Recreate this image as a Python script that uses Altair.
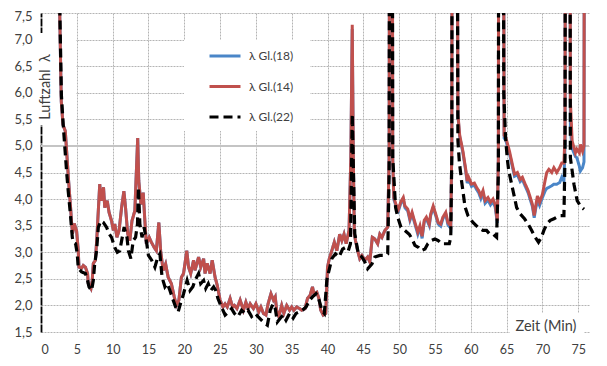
import altair as alt
import pandas as pd

# ---------------- data ----------------
series_names = ["λ Gl.(18)", "λ Gl.(14)", "λ Gl.(22)"]
series_colors = ["#4a86c8", "#c0504d", "#000000"]
series_dash = [[1, 0], [1, 0], [9, 5]]

x_ticks = [0, 5, 10, 15, 20, 25, 30, 35, 40, 45, 50, 55, 60, 65, 70, 75]
y_ticks = [1.5, 2.0, 2.5, 3.0, 3.5, 4.0, 4.5, 5.0, 5.5, 6.0, 6.5, 7.0, 7.5]
ref_line = [5.0]
y_title = ["Luftzahl\u2002λ"]
x_title = ["Zeit (Min)"]

# time axis shared by Gl.(14) and Gl.(18)
t_14 = [
    2.5, 2.6, 2.83, 3.07, 3.39, 3.85, 4.13, 4.27, 4.4, 4.64,
    4.97, 5.2, 5.3, 5.67, 5.9, 6.2, 6.5, 6.6, 6.97, 7.15,
    7.3, 7.6, 7.8, 8.0, 8.2, 8.4, 8.73, 8.9, 9.25, 9.5,
    9.85, 10.1, 10.3, 10.6, 10.9, 11.25, 11.57, 11.8, 12.1, 12.4,
    12.7, 13.1, 13.3, 13.5, 13.65, 13.95, 14.27, 14.5, 14.7, 15.1,
    15.4, 15.8, 16.1, 16.45, 16.7, 17.05, 17.4, 17.75, 18.2, 18.6,
    18.9, 19.25, 19.6, 19.9, 20.35, 20.6, 20.9, 21.3, 21.5, 22.0,
    22.3, 22.7, 22.9, 23.2, 23.6, 23.9, 24.3, 24.6, 25.0, 25.4,
    25.7, 26.0, 26.4, 26.75, 27.0, 27.35, 27.8, 28.26, 28.6, 28.9,
    29.2, 29.65, 30.0, 30.4, 30.7, 31.05, 31.4, 31.7, 32.1, 32.45,
    32.7, 32.9, 33.2, 33.6, 33.9, 34.3, 34.7, 35.0, 35.3, 35.7,
    36.1, 36.4, 36.86, 37.2, 37.56, 37.9, 38.1, 38.5, 38.8, 39.05,
    39.4, 39.75, 40.0, 40.25, 40.6, 40.95, 41.3, 41.7, 42.0, 42.3,
    42.6, 43.0, 43.25, 43.45, 43.6, 43.74, 43.9, 44.2, 44.5, 44.8,
    45.2, 45.6, 45.9, 46.25, 46.6, 47.0, 47.3, 47.6, 48.0, 48.4,
    48.6, 48.75, 48.95, 49.1, 49.25, 49.55, 49.9, 50.2, 50.57, 50.8,
    51.2, 51.5, 51.8, 52.2, 52.6, 52.9, 53.2, 53.5, 53.8, 54.2,
    54.4, 54.75, 55.1, 55.45, 55.8, 56.1, 56.5, 56.8, 57.2, 57.35,
    57.45, 57.9, 58.2, 58.45, 58.9, 59.3, 59.5, 59.7, 60.1, 60.5,
    60.8, 61.1, 61.4, 61.7, 62.0, 62.4, 62.75, 63.1, 63.4, 63.7,
    63.85, 63.95, 64.4, 64.65, 64.9, 65.4, 65.9, 66.1, 66.5, 66.9,
    67.2, 67.6, 68.0, 68.3, 68.6, 68.85, 69.1, 69.3, 69.6, 70.0,
    70.4, 70.6, 70.9, 71.3, 71.6, 72.0, 72.4, 72.7, 73.0, 73.15,
    73.3, 73.75, 73.9, 74.15, 74.6, 74.8, 75.15, 75.3, 75.6, 75.8,
    75.95,
]

lam_14 = [
    20, 7.6, 5.84, 5.4, 5.28, 4.35, 3.84, 3.56, 3.35, 3.54,
    3.4, 3.03, 2.72, 2.7, 2.75, 2.72, 2.6, 2.41, 2.32, 2.47,
    2.79, 2.85, 3.28, 3.78, 4.28, 3.97, 4.22, 3.84, 3.97, 3.75,
    3.59, 3.41, 3.53, 3.28, 3.41, 3.84, 4.15, 3.84, 3.35, 3.22,
    3.59, 3.78, 4.47, 5.15, 4.34, 3.9, 4.12, 3.59, 3.16, 3.28,
    3.19, 3.09, 3.03, 3.56, 3.03, 2.66, 2.78, 2.53, 2.41, 2.16,
    2.0, 2.1, 2.53, 2.6, 3.03, 2.72, 2.6, 2.85, 2.66, 2.91,
    2.72, 2.88, 2.6, 2.79, 2.6, 2.85, 2.53, 2.38, 2.1, 1.97,
    2.03, 1.97, 2.13, 1.97, 2.0, 1.94, 2.1, 1.91, 2.06, 1.94,
    2.03, 1.94, 2.03, 1.88, 1.97, 1.85, 1.82, 2.03, 2.22, 2.1,
    2.16, 1.91, 1.79, 2.0, 1.85, 2.0, 1.91, 1.97, 1.91, 1.97,
    1.94, 1.91, 1.94, 2.13, 2.19, 2.35, 2.22, 2.25, 2.13, 1.91,
    1.82, 1.85, 2.72, 2.88, 3.03, 3.19, 3.03, 3.34, 3.22, 3.34,
    3.16, 3.41, 4.78, 7.28, 4.78, 3.35, 3.22, 3.03, 2.88, 2.94,
    2.85, 2.91, 2.82, 3.28, 3.25, 3.16, 3.34, 3.28, 3.41, 3.47,
    4.8, 20, 20, 4.78, 4.03, 3.9, 3.81, 3.94, 4.03, 3.87,
    3.81, 3.63, 3.75, 3.56, 3.38, 3.5, 3.3, 3.6, 3.66, 3.53,
    3.72, 3.87, 3.72, 3.56, 3.53, 3.66, 3.75, 3.56, 3.5, 5.0,
    20, 20, 5.6, 5.2, 4.9, 4.55, 4.34, 4.41, 4.28, 4.3,
    4.22, 4.16, 4.06, 4.16, 3.97, 4.03, 3.94, 4.0, 3.9, 3.59,
    4.8, 20, 20, 5.2, 5.15, 4.9, 4.59, 4.47, 4.5, 4.37,
    4.41, 4.28, 4.16, 4.03, 3.9, 3.69, 3.9, 4.06, 3.94, 4.09,
    4.37, 4.5, 4.56, 4.5, 4.59, 4.5, 4.59, 4.68, 4.68, 5.2,
    20, 20, 5.84, 5.09, 4.87, 4.94, 4.87, 5.03, 4.9, 5.0,
    20,
]

lam_18 = [
    20, 7.6, 5.84, 5.4, 5.28, 4.35, 3.84, 3.56, 3.35, 3.54,
    3.4, 3.03, 2.72, 2.7, 2.75, 2.72, 2.6, 2.41, 2.32, 2.47,
    2.79, 2.85, 3.28, 3.78, 4.28, 3.97, 4.22, 3.84, 3.97, 3.75,
    3.59, 3.41, 3.53, 3.28, 3.41, 3.84, 4.15, 3.84, 3.35, 3.22,
    3.59, 3.78, 4.47, 5.15, 4.34, 3.9, 4.12, 3.59, 3.16, 3.28,
    3.19, 3.09, 3.03, 3.56, 3.03, 2.66, 2.78, 2.53, 2.41, 2.16,
    2.0, 2.1, 2.53, 2.6, 3.03, 2.72, 2.6, 2.85, 2.66, 2.91,
    2.72, 2.88, 2.6, 2.79, 2.6, 2.85, 2.53, 2.38, 2.1, 1.97,
    2.03, 1.97, 2.13, 1.97, 2.0, 1.94, 2.1, 1.91, 2.06, 1.94,
    2.03, 1.94, 2.03, 1.88, 1.97, 1.85, 1.82, 2.03, 2.22, 2.1,
    2.16, 1.91, 1.79, 2.0, 1.85, 2.0, 1.91, 1.97, 1.91, 1.97,
    1.94, 1.91, 1.94, 2.13, 2.19, 2.35, 2.22, 2.25, 2.13, 1.91,
    1.82, 1.85, 2.72, 2.88, 3.03, 3.19, 3.03, 3.34, 3.22, 3.34,
    3.16, 3.41, 4.78, 7.2, 4.78, 3.35, 3.22, 3.03, 2.88, 2.94,
    2.85, 2.91, 2.82, 3.28, 3.25, 3.16, 3.34, 3.28, 3.41, 3.47,
    4.8, 20, 20, 4.75, 4.0, 3.87, 3.78, 3.91, 4.0, 3.84,
    3.78, 3.6, 3.72, 3.53, 3.34, 3.47, 3.26, 3.57, 3.63, 3.5,
    3.69, 3.84, 3.69, 3.53, 3.49, 3.63, 3.72, 3.52, 3.45, 5.0,
    20, 20, 5.57, 5.17, 4.87, 4.52, 4.3, 4.37, 4.24, 4.26,
    4.18, 4.12, 4.01, 4.12, 3.92, 3.98, 3.89, 3.95, 3.85, 3.55,
    4.8, 20, 20, 5.15, 5.1, 4.85, 4.55, 4.43, 4.46, 4.33,
    4.37, 4.24, 4.12, 3.99, 3.86, 3.65, 3.85, 3.98, 3.88, 4.03,
    4.16, 4.2, 4.22, 4.25, 4.28, 4.28, 4.31, 4.41, 4.34, 5.0,
    20, 20, 5.3, 4.95, 4.8, 4.78, 4.62, 4.53, 4.59, 4.7,
    20,
]

t_22 = [
    2.5, 2.62, 2.85, 3.1, 3.6, 3.8, 4.1, 4.37, 4.5, 4.83,
    5.06, 5.2, 5.67, 6.2, 6.5, 6.7, 7.06, 7.3, 7.5, 7.76,
    8.0, 8.37, 8.7, 9.15, 9.5, 9.85, 10.3, 10.65, 11.0, 11.34,
    11.6, 12.0, 12.2, 12.55, 12.87, 13.2, 13.47, 13.6, 13.8, 14.1,
    14.4, 14.7, 15.0, 15.45, 15.9, 16.3, 16.6, 16.9, 17.3, 17.65,
    18.0, 18.45, 18.8, 19.15, 19.5, 19.9, 20.4, 20.8, 21.2, 21.5,
    22.0, 22.3, 22.7, 23.0, 23.35, 23.7, 24.1, 24.4, 24.7, 25.1,
    25.7, 26.2, 26.6, 27.0, 27.5, 28.0, 28.5, 28.9, 29.4, 29.9,
    30.3, 30.8, 31.3, 31.6, 32.0, 32.4, 32.7, 33.0, 33.4, 33.8,
    34.2, 34.7, 35.2, 35.6, 36.1, 36.5, 37.0, 37.5, 37.9, 38.4,
    38.7, 39.2, 39.55, 39.9, 40.1, 40.6, 41.1, 41.6, 42.1, 42.5,
    42.9, 43.2, 43.45, 43.8, 44.3, 44.8, 45.2, 45.6, 46.2, 46.6,
    47.3, 48.0, 48.4, 48.6, 48.75, 48.95, 49.1, 49.5, 49.8, 50.25,
    50.8, 51.4, 51.8, 52.2, 52.7, 53.1, 53.6, 54.0, 54.5, 55.0,
    55.45, 55.9, 56.4, 57.0, 57.2, 57.35, 57.45, 57.9, 58.2, 58.4,
    58.7, 59.2, 59.6, 60.3, 61.0, 61.7, 62.2, 62.65, 63.1, 63.6,
    63.85, 63.95, 64.4, 64.6, 64.85, 65.1, 65.3, 65.7, 66.1, 66.4,
    66.9, 67.5, 68.0, 68.5, 69.0, 69.45, 69.85, 70.2, 70.6, 71.1,
    71.6, 72.0, 72.5, 73.0, 73.15, 73.3, 73.75, 73.9, 74.4, 74.85,
    75.3, 75.8,
]

lam_22 = [
    20, 7.6, 5.95, 5.4, 4.47, 4.15, 3.72, 3.28, 3.19, 3.16,
    2.97, 2.7, 2.63, 2.6, 2.47, 2.35, 2.28, 2.47, 2.79, 3.03,
    3.47, 3.59, 3.56, 3.47, 3.35, 3.28, 3.09, 3.0, 3.03, 3.28,
    3.47, 3.28, 3.03, 2.88, 3.22, 3.28, 3.53, 4.22, 3.53, 3.28,
    3.47, 3.22, 2.94, 2.85, 2.72, 2.91, 2.97, 2.53, 2.35, 2.41,
    2.28, 2.1, 1.97, 1.88, 2.05, 2.22, 2.47, 2.28, 2.35, 2.47,
    2.6, 2.41, 2.47, 2.32, 2.41, 2.28, 2.35, 2.28, 2.13, 2.0,
    1.82, 1.88, 1.94, 1.85, 1.79, 1.91, 1.85, 1.91, 1.79, 1.85,
    1.79, 1.72, 1.66, 1.63, 1.91, 2.03, 1.94, 1.69, 1.76, 1.82,
    1.72, 1.85, 1.76, 1.85, 1.88, 1.91, 1.97, 2.1, 2.16, 2.22,
    2.16, 1.91, 1.85, 2.47, 2.6, 2.88, 2.97, 2.91, 3.06, 3.09,
    3.03, 3.16, 5.6, 3.35, 2.97, 2.91, 2.82, 2.69, 2.78, 2.91,
    2.94, 2.94, 2.97, 4.5, 20, 20, 4.78, 3.84, 3.66, 3.47,
    3.41, 3.34, 3.25, 3.13, 3.09, 3.03, 3.06, 3.16, 3.22, 3.25,
    3.22, 3.16, 3.16, 3.16, 3.28, 4.8, 20, 20, 5.1, 4.7,
    4.35, 3.85, 3.69, 3.56, 3.47, 3.41, 3.41, 3.34, 3.34, 3.28,
    4.5, 20, 20, 6.0, 5.15, 4.75, 4.53, 4.28, 4.03, 3.84,
    3.72, 3.63, 3.53, 3.41, 3.28, 3.19, 3.28, 3.41, 3.53, 3.6,
    3.63, 3.66, 3.69, 3.69, 4.8, 20, 20, 4.78, 4.28, 3.97,
    3.87, 3.81,
]

assert len(t_14) == len(lam_14) == len(lam_18)
assert len(t_22) == len(lam_22)

# ---------------- styling ----------------
FONT = "Lato"
TXT = "#404040"
GRID = "#b4b4b4"
W, H = 548, 319

df18 = pd.DataFrame({"t": t_14, "v": lam_18, "s": series_names[0]})
df14 = pd.DataFrame({"t": t_14, "v": lam_14, "s": series_names[1]})
df22 = pd.DataFrame({"t": t_22, "v": lam_22, "s": series_names[2]})
df_ref = pd.DataFrame({"v": ref_line})
df_one = pd.DataFrame({"k": [0]})

x_enc = alt.X(
    "t:Q",
    scale=alt.Scale(domain=[0, 76.5], nice=False, zero=False),
    axis=alt.Axis(
        values=x_ticks, title=None, format="d", grid=True, gridColor=GRID,
        gridDash=[2, 1], gridWidth=1, domain=False, ticks=False,
        gridOpacity=alt.condition("datum.value == 0", alt.value(0), alt.value(1)),
        labelPadding=11, labelFont=FONT, labelFontSize=12.5, labelColor=TXT,
    ),
)
y_enc = alt.Y(
    "v:Q",
    scale=alt.Scale(domain=[1.5, 7.5], nice=False, zero=False),
    axis=alt.Axis(
        values=y_ticks, title=None, grid=True, gridColor=GRID, gridDash=[2, 1],
        gridWidth=1, domain=True, domainColor="#000000", domainWidth=1.8,
        domainDash=[8, 1], ticks=False, labelPadding=9, labelFont=FONT,
        labelFontSize=13, labelColor=TXT,
        labelOffset=alt.condition("datum.value == 7.5", alt.value(3), alt.value(0)),
        labelExpr="replace(format(datum.value, '.1f'), '.', ',')",
    ),
)

leg = alt.Legend(
    title=None, orient="none", legendX=167, legendY=26,
    symbolType="stroke", symbolSize=961, symbolStrokeWidth=3,
    labelFont=FONT, labelFontSize=12, labelColor=TXT, labelOffset=7,
    padding=0, rowPadding=7.5,
)
color_enc = alt.Color("s:N", scale=alt.Scale(domain=series_names, range=series_colors), legend=leg)
dash_enc = alt.StrokeDash("s:N", scale=alt.Scale(domain=series_names, range=series_dash), legend=leg)

ref = alt.Chart(df_ref).mark_rule(color="#c4c4c4", strokeWidth=2).encode(y=y_enc)

ybox = alt.Chart(df_one).mark_rect(color="white", clip=False).encode(
    x=alt.value(-1), x2=alt.value(35), y=alt.value(20), y2=alt.value(112))
legbox = alt.Chart(df_one).mark_rect(color="white").encode(
    x=alt.value(143), x2=alt.value(269), y=alt.value(27), y2=alt.value(118))
xbox = alt.Chart(df_one).mark_rect(color="white", clip=False).encode(
    x=alt.value(469), x2=alt.value(543), y=alt.value(300), y2=alt.value(327))

def line(df, width):
    return alt.Chart(df).mark_line(clip=True, strokeWidth=width).encode(
        x=x_enc, y=y_enc, color=color_enc, strokeDash=dash_enc, order="t:Q")

l18 = line(df18, 3)
l14 = line(df14, 3)
l22 = line(df22, 3.2)

ytxt = alt.Chart(pd.DataFrame({"txt": y_title})).mark_text(
    angle=270, align="center", baseline="middle", font=FONT, fontSize=14.5, color=TXT
).encode(x=alt.value(5), y=alt.value(74), text="txt:N")
xtxt = alt.Chart(pd.DataFrame({"txt": x_title})).mark_text(
    align="center", baseline="middle", font=FONT, fontSize=14.5, color=TXT
).encode(x=alt.value(505), y=alt.value(314), text="txt:N")

chart = alt.layer(ref, ybox, legbox, xbox, l18, l14, l22, ytxt, xtxt).properties(
    width=W, height=H,
    padding={"left": 33, "top": 5, "right": 10, "bottom": 30},
    autosize=alt.AutoSizeParams(type="none"),
    background="white",
).configure_view(stroke=None)

chart.save("out.html", embed_options={"renderer": "svg", "actions": False})
